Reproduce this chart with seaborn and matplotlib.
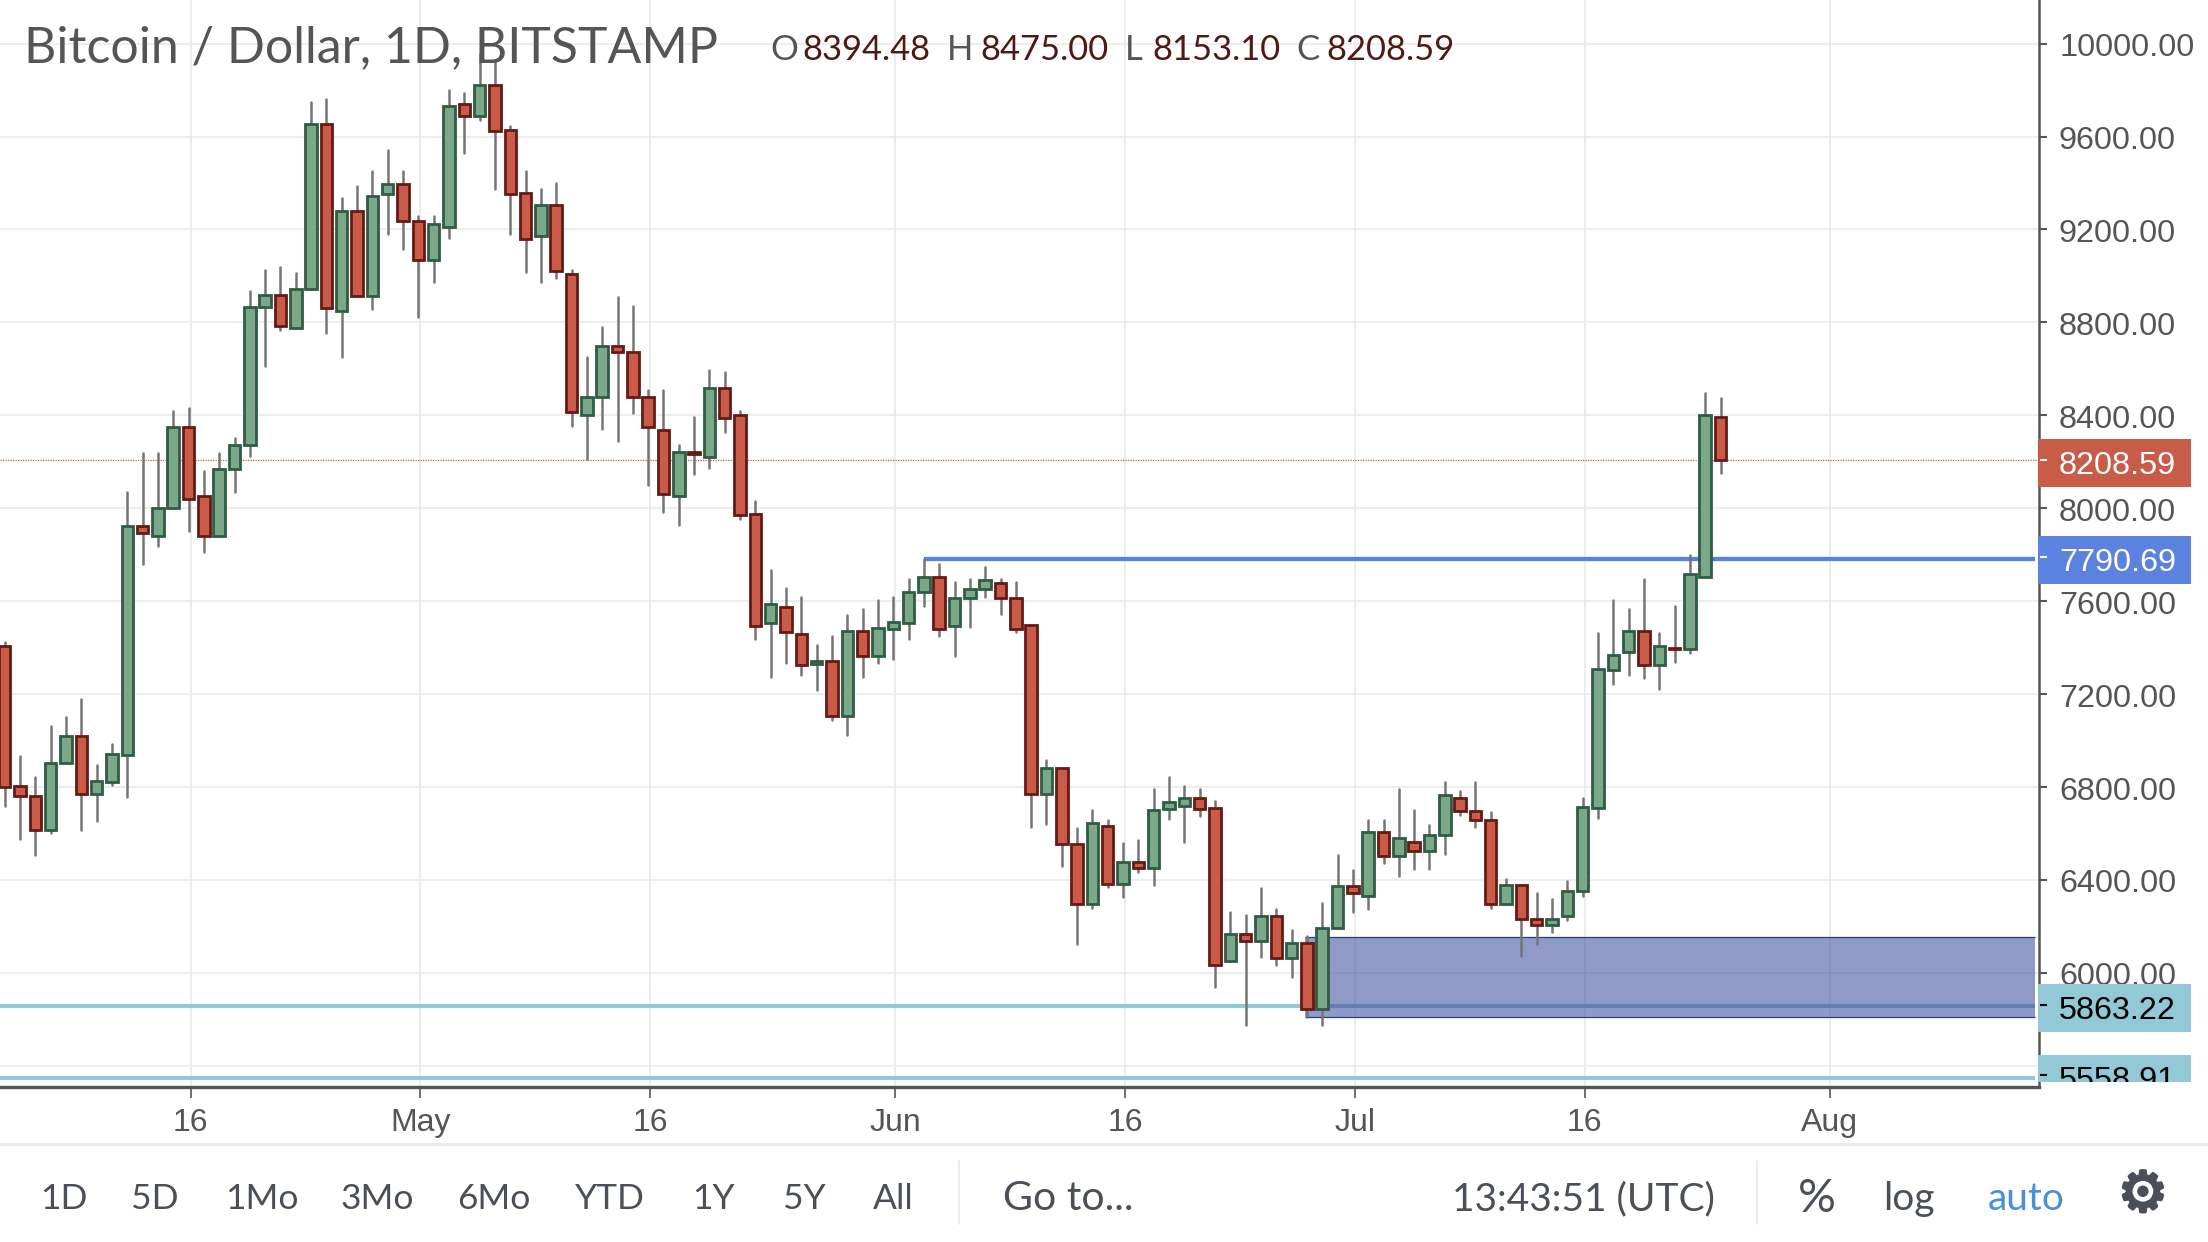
# btc_candles.py
# Bitcoin / Dollar daily candles in the TradingView layout

import matplotlib
matplotlib.use("Agg")
import matplotlib.patheffects as pe
import matplotlib.pyplot as plt
from matplotlib.patches import Rectangle
import pandas as pd
import seaborn as sns

# =========================
# 0. Data (first candle = 4 Apr, one per day)
# =========================
opens = [7408, 6803, 6763, 6616, 6903, 7021, 6771, 6822, 6939, 7924, 7882, 8001, 8351, 8051, 7882, 8167, 8271, 8866,
         8917, 8774, 8943, 9654, 8851, 9278, 8915, 9353, 9396, 9238, 9070, 9212, 9742, 9688, 9822, 9627, 9356, 9173,
         9304, 9009, 8400, 8479, 8700, 8672, 8479, 8336, 8051, 8244, 8220, 8517, 8400, 7974, 7505, 7574, 7459, 7329,
         7341, 7106, 7472, 7364, 7482, 7507, 7639, 7703, 7495, 7613, 7651, 7677, 7613, 7498, 6771, 6880, 6556, 6295,
         6633, 6384, 6476, 6450, 6706, 6719, 6751, 6711, 6049, 6169, 6138, 6246, 6064, 6130, 5843, 6195, 6373, 6333,
         6607, 6504, 6565, 6525, 6594, 6752, 6698, 6660, 6298, 6377, 6233, 6208, 6244, 6352, 6710, 7304, 7381, 7473,
         7327, 7398, 7392, 7706, 8394.48]
closes = [6800, 6760, 6616, 6903, 7021, 6771, 6824, 6943, 7924, 7892, 8000, 8351, 8039, 7882, 8167, 8271, 8866, 8917,
          8786, 8943, 9654, 8863, 9278, 8915, 9342, 9396, 9238, 9070, 9224, 9731, 9688, 9822, 9624, 9353, 9161, 9304,
          9020, 8413, 8479, 8700, 8672, 8477, 8348, 8062, 8244, 8233, 8517, 8390, 7971, 7495, 7587, 7467, 7326, 7341,
          7106, 7472, 7364, 7485, 7510, 7639, 7703, 7482, 7613, 7651, 7690, 7613, 7482, 6771, 6880, 6553, 6295, 6645,
          6384, 6476, 6450, 6699, 6736, 6751, 6706, 6035, 6169, 6138, 6246, 6064, 6130, 5843, 6195, 6373, 6345, 6607,
          6504, 6580, 6525, 6594, 6765, 6698, 6660, 6298, 6377, 6233, 6208, 6233, 6352, 6712, 7306, 7369, 7473, 7327,
          7408, 7392, 7719, 8402, 8208.59]
highs = [7424, 6932, 6843, 7061, 7101, 7178, 6895, 6985, 8070, 8239, 8239, 8417, 8433, 8159, 8236, 8302, 8935, 9024,
         9038, 9012, 9748, 9760, 9335, 9385, 9450, 9542, 9450, 9258, 9258, 9800, 9788, 9954, 9929, 9645, 9450, 9373,
         9401, 9024, 8651, 8778, 8909, 8869, 8509, 8509, 8274, 8393, 8597, 8586, 8420, 8031, 7733, 7656, 7616, 7410,
         7448, 7539, 7567, 7605, 7617, 7694, 7782, 7759, 7682, 7694, 7747, 7694, 7682, 7498, 6918, 6880, 6622, 6699,
         6660, 6560, 6571, 6791, 6842, 6803, 6791, 6740, 6261, 6249, 6365, 6273, 6184, 6158, 6302, 6507, 6442, 6660,
         6660, 6791, 6702, 6637, 6821, 6781, 6821, 6692, 6406, 6377, 6344, 6317, 6394, 6754, 7462, 7604, 7567, 7696,
         7462, 7581, 7798, 8494, 8475.00]
lows = [6717, 6576, 6509, 6602, 6903, 6614, 6652, 6807, 6755, 7761, 7839, 8001, 7902, 7813, 7882, 8070, 8225, 8612,
        8769, 8774, 8943, 8755, 8651, 8915, 8858, 9181, 9116, 8823, 8973, 9165, 9530, 9673, 9376, 9181, 9015, 8973,
        8989, 8356, 8213, 8343, 8290, 8408, 8098, 7982, 7929, 8148, 8174, 8328, 7955, 7439, 7272, 7336, 7283, 7218,
        7090, 7024, 7272, 7336, 7349, 7439, 7579, 7452, 7362, 7490, 7620, 7544, 7467, 6627, 6640, 6458, 6123, 6279,
        6368, 6327, 6433, 6379, 6663, 6564, 6676, 5941, 6049, 5774, 6069, 6034, 5981, 5808, 5774, 6195, 6264, 6276,
        6471, 6419, 6445, 6445, 6510, 6681, 6629, 6281, 6298, 6073, 6123, 6175, 6229, 6331, 6665, 7244, 7281, 7271,
        7223, 7337, 7375, 7706, 8153.10]

price_ticks = [10000, 9600, 9200, 8800, 8400, 8000, 7600, 7200, 6800, 6400, 6000, 5600]
time_tick_days = [12, 27, 42, 58, 73, 88, 103, 119]
time_tick_labels = ["16", "May", "16", "Jun", "16", "Jul", "16", "Aug"]

last_price = 8208.59
resistance = 7790.69
resistance_drawn_at = 7780
resistance_start_day = 60
support_levels = [5863.22, 5558.91]
support_drawn_at = [5857, 5546]
zone_low, zone_high = 5808, 6156
zone_start_day = 85

buttons = ["1D", "5D", "1Mo", "3Mo", "6Mo", "YTD", "1Y", "5Y", "All"]
buttons_left = [40, 131, 225, 341, 457, 575, 692, 783, 873]
status_items = ["Go to...", "13:43:51 (UTC)", "%", "log", "auto"]
status_left = [1003, 1452, 1798, 1883, 1988]

# Colours
GREEN, GREEN_EDGE = "#7ba888", "#2f5c44"
RED, RED_EDGE = "#c95c49", "#651a16"
WICK = "#757575"
GRID = "#e8e8e8"
AXIS = "#555555"
BLUE = "#5882e0"
TEAL = "#93c9d6"
TEXT = "#4b4f57"

# =========================
# 1. Figure and axes, in pixels of the picture
# =========================
sns.set_theme(style="white")
plt.rcParams["font.family"] = ["Liberation Sans", "DejaVu Sans"]
UI_FONT = ["Lato", "DejaVu Sans"]

W, H = 2208, 1242
AX_R, AX_B = 2039, 1087
PX_PER_DOLLAR = 0.23232
PX_PER_DAY = 15.32
fig = plt.figure(figsize=(W / 100, H / 100), dpi=100)
ax = fig.add_axes([0, 1 - AX_B / H, AX_R / W, AX_B / H])

y_top = 10000 + 43.6 / PX_PER_DOLLAR
y_bottom = 10000 - (AX_B - 43.6) / PX_PER_DOLLAR
x_left = -4.7 / PX_PER_DAY
x_right = x_left + AX_R / PX_PER_DAY

df = pd.DataFrame({"open": opens, "close": closes, "high": highs, "low": lows})
df["day"] = range(len(df))
df["top"] = df[["open", "close"]].max(axis=1)
df["bottom"] = df[["open", "close"]].min(axis=1)
df["height"] = df["top"] - df["bottom"]

# =========================
# 2. Levels, zone and candles
# =========================
ax.axhline(last_price, color=RED, lw=0.9, ls=(0, (1, 1)), zorder=2)
ax.hlines(resistance_drawn_at, resistance_start_day, 132.5, color=BLUE, lw=3.1, zorder=2)
ax.hlines(support_drawn_at, x_left, 132.5, color=TEAL, lw=3, zorder=2)
ax.add_patch(Rectangle((zone_start_day - 0.1, zone_low), 132.5 - zone_start_day + 0.1, zone_high - zone_low,
                       facecolor=(0.2, 0.28, 0.61, 0.55), edgecolor="none", zorder=3))
ax.hlines([zone_low, zone_high], zone_start_day - 0.1, 132.5, color="#2b3f7d", lw=0.9, zorder=3)

wicks = df.melt(id_vars="day", value_vars=["low", "high"], value_name="price")
sns.lineplot(data=wicks, x="day", y="price", units="day", estimator=None, color=WICK, lw=1.8, ax=ax, zorder=4)

for part, face, edge in [(df[df["close"] >= df["open"]], GREEN, GREEN_EDGE), (df[df["close"] < df["open"]], RED, RED_EDGE)]:
    sns.barplot(data=part, x="day", y="height", bottom=part["bottom"], native_scale=True, width=0.75,
                color=face, saturation=1, edgecolor=edge, linewidth=2.0, errorbar=None, ax=ax, zorder=5)

# =========================
# 3. Grid, ticks and axis lines
# =========================
ax.set_xlim(x_left, x_right)
ax.set_ylim(y_bottom, y_top)
ax.set_xlabel("")
ax.set_ylabel("")
sns.despine(ax=ax, left=True, top=True, right=False, bottom=False)
ax.spines["right"].set(color=AXIS, lw=1.8)
ax.spines["bottom"].set(color=AXIS, lw=2.4)
ax.set_xticks([d + 0.13 for d in time_tick_days], time_tick_labels, fontsize=23, color=AXIS)
ax.set_yticks(price_ticks)
ax.tick_params(axis="x", bottom=True, length=8, width=1.2, color=AXIS, pad=7)
ax.tick_params(axis="y", left=False, right=False, labelleft=False, labelright=False)
ax.grid(True, color=GRID, lw=1.1, zorder=0)
ax.set_axisbelow(True)

# =========================
# 4. Price scale on the right, cut off at the bottom like the original
# =========================
PANEL_B = 1082
PANEL_L = AX_R - 1
panel = fig.add_axes([PANEL_L / W, 1 - PANEL_B / H, (W - PANEL_L) / W, PANEL_B / H])
panel.set_xlim(0, W - PANEL_L)
panel.set_ylim(10000 - (PANEL_B - 43.6) / PX_PER_DOLLAR, y_top)
panel.axis("off")

for price in price_ticks:
    panel.text(21, price - 4.5 / PX_PER_DOLLAR, f"{price:.2f}", fontsize=23.3, color=AXIS, va="center", ha="left",
               clip_on=True, zorder=2)
    panel.hlines(price, 2, 9, color=AXIS, lw=1.5, zorder=2)

box_h = 48 / PX_PER_DOLLAR
tags = [(last_price, RED, "white"), (resistance, "#5a82de", "white"),
        (support_levels[0], TEAL, "black"), (support_levels[1], TEAL, "black")]
for price, face, ink in tags:
    center = price - 3.5 / PX_PER_DOLLAR
    panel.add_patch(Rectangle((0, center - box_h / 2), 153, box_h, facecolor=face, edgecolor="none", zorder=3))
    panel.hlines(price, 2, 9, color=ink, lw=1.5, zorder=4)
    panel.text(21, center - 2.5 / PX_PER_DOLLAR, f"{price:.2f}", fontsize=23.3, color=ink, va="center", ha="left",
               clip_on=True, zorder=4)

# =========================
# 5. Header
# =========================
def px_text(x, y, s, **kw):
    return fig.text(x / W, 1 - y / H, s, va="center", **kw)

px_text(24, 48, "Bitcoin / Dollar, 1D, BITSTAMP", fontsize=36, color=AXIS, family=UI_FONT)
header = [(770, 802, "O", 8394.48), (947, 980, "H", 8475.00), (1125, 1152, "L", 8153.10), (1296, 1326, "C", 8208.59)]
for x, x_value, letter, value in header:
    px_text(x, 50, letter, fontsize=25, color=AXIS, family=UI_FONT)
    px_text(x_value, 50, f"{value:.2f}", fontsize=24.8, color="#4e1a14", family=UI_FONT)

# =========================
# 6. Toolbar
# =========================
fig.add_artist(plt.Line2D([0, 1], [1 - 1144 / H] * 2, color=GRID, lw=2))
for x in [959, 1757]:
    fig.add_artist(plt.Line2D([x / W] * 2, [1 - 1161 / H, 1 - 1224 / H], color=GRID, lw=1.2))
for x, s in zip(buttons_left, buttons):
    px_text(x, 1199, s, fontsize=25.5, color=TEXT, family=UI_FONT)
for x, s in zip(status_left, status_items):
    size = {"%": 34, "Go to...": 29.5}.get(s, 28)
    px_text(x, 1199, s, fontsize=size, color="#4a90d9" if s == "auto" else TEXT, family=UI_FONT)
gear = px_text(2118, 1196, "\u2699", fontsize=40, color=TEXT, ha="left", family="DejaVu Sans")
gear.set_path_effects([pe.withStroke(linewidth=2.2, foreground=TEXT)])

fig.savefig("out.png", dpi=100)
plt.close(fig)
